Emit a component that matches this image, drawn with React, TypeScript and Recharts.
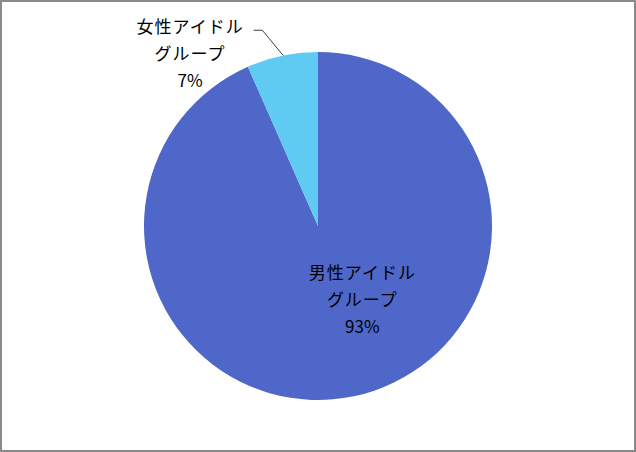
import { PieChart, Pie, Cell } from "recharts";

const categories = ["男性アイドル\nグループ", "女性アイドル\nグループ"];
const shares = [93.4, 6.6];
const colors = ["#4F67C8", "#5FCBF3"];

const data = categories.map((name, i) => ({ name, value: shares[i] }));

const FONT = "'Noto Sans CJK JP', 'Noto Sans', sans-serif";

function renderLabel(props: any) {
  const { cx, cy, outerRadius, index, payload, percent } = props;
  const lines: string[] = payload.name.split("\n");
  const pct = `${Math.round(percent * 100)}%`;
  const r = outerRadius;

  if (index === 0) {
    // inside label
    const x = cx + r * 0.255;
    const y = cy + r * 0.305;
    return (
      <text x={x} y={y} textAnchor="middle" fontFamily={FONT} fontSize={17} fill="#000">
        <tspan x={x} dy={0} letterSpacing={1}>{lines[0]}</tspan>
        <tspan x={x} dy={27} letterSpacing={1}>{lines[1]}</tspan>
        <tspan x={x} dy={27}>{pct}</tspan>
      </text>
    );
  }

  // outside label with leader line
  const x = cx - r * 0.735;
  const y = cy - r * 1.108;
  const sx = cx - r * 0.2;
  const sy = cy - r * 0.98;
  return (
    <g>
      <polyline
        points={`${sx},${sy} ${cx - r * 0.32},${cy - r * 1.125} ${cx - r * 0.37},${cy - r * 1.125}`}
        fill="none"
        stroke="#404040"
        strokeWidth={1}
      />
      <text x={x} y={y} textAnchor="middle" fontFamily={FONT} fontSize={17} fill="#000">
        <tspan x={x} dy={0} letterSpacing={1}>{lines[0]}</tspan>
        <tspan x={x} dy={27} letterSpacing={1}>{lines[1]}</tspan>
        <tspan x={x} dy={27}>{pct}</tspan>
      </text>
    </g>
  );
}

export default function App() {
  return (
    <>
      <style>{`body{margin:0}`}</style>
      <div
        style={{
          width: 636,
          height: 452,
          boxSizing: "border-box",
          border: "2px solid #8a8a8a",
          background: "#fff",
          position: "relative",
        }}
      >
        <PieChart width={632} height={448} style={{ position: "absolute", left: 0, top: 0 }}>
          <Pie
            data={data}
            dataKey="value"
            nameKey="name"
            cx={311}
            cy={219}
            outerRadius={174}
            startAngle={90}
            endAngle={-270}
            stroke="none"
            label={renderLabel}
            labelLine={false}
            isAnimationActive={false}
          >
            {data.map((d, i) => (
              <Cell key={d.name} fill={colors[i]} />
            ))}
          </Pie>
        </PieChart>
      </div>
    </>
  );
}
